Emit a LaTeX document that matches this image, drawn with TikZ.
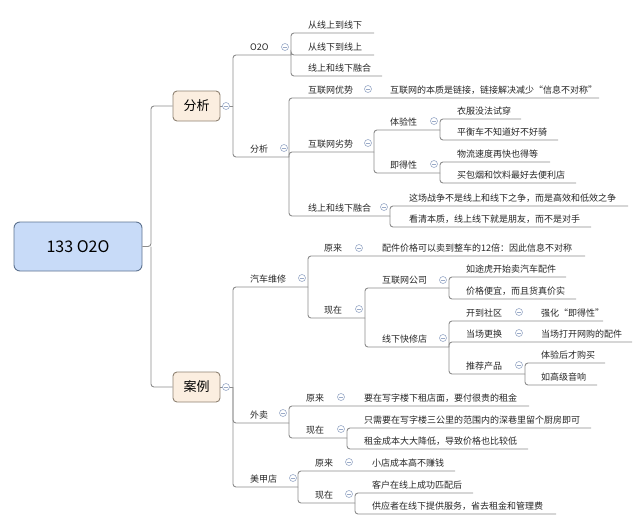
\documentclass[tikz,border=0pt]{standalone}
\usepackage{fontspec}
\setmainfont{Noto Sans CJK SC}
\begin{document}
\begin{tikzpicture}[x=1pt,y=-1pt]
\definecolor{ln}{HTML}{8C8C8C}
\definecolor{cc}{HTML}{9AAAC8}
\definecolor{rootfill}{HTML}{C8DBF8}
\definecolor{rootdraw}{HTML}{5E7390}
\definecolor{boxfill}{HTML}{FBEEE0}
\definecolor{boxdraw}{HTML}{8E8272}
\tikzset{
 conn/.style={draw=ln,line width=0.9pt,rounded corners=3pt},
 txt/.style={inner sep=0pt,anchor=base west,font=\fontsize{9}{11}\selectfont,text=black!85},
 circ/.style={circle,draw=cc,fill=white,minimum size=7pt,inner sep=0pt,line width=0.6pt},
 topbox/.style={draw=boxdraw,fill=boxfill,rounded corners=4pt,minimum width=47pt,minimum height=30pt,font=\fontsize{13}{15}\selectfont,line width=0.9pt},
}
\newcommand{\ch}[6]{\draw[conn] (#1,#2) |- (#4,#3); \node[txt] at (#5,#3-4.5) {#6};}
\newcommand{\cx}[3]{\node[txt] at (#1,#2-4.5) {#3};}
\newcommand{\cc}[2]{\node[circ] at (#1,#2) {}; \draw[cc,line width=0.6pt] (#1-2,#2) -- (#1+2,#2);}
\useasboundingbox (0,0) rectangle (640,528);
% root
\node[draw=rootdraw,fill=rootfill,rounded corners=6pt,minimum width=128pt,minimum height=49pt,font=\fontsize{16}{18}\selectfont,line width=0.9pt] (root) at (78,246.5) {133 O2O};
\node[topbox] (fx) at (196.5,106) {分析};
\node[topbox] (al) at (196.5,387) {案例};
\draw[conn] (root.east) -- (151,246.5) |- (fx.west);
\draw[conn] (151,246.5) |- (al.west);
\draw[conn] (fx.east) -- (233,106);
\draw[conn] (al.east) -- (233,387);
\cc{226}{106}\cc{226}{387}
% 分析 group
\ch{233}{106}{55}{291}{250}{O2O}
\ch{233}{106}{157}{289}{250}{分析}
\ch{291}{55}{33}{374}{308}{从线上到线下}
\ch{291}{55}{55}{374}{308}{从线下到线上}
\ch{291}{55}{76}{382}{308}{线上和线下融合}
\ch{289}{157}{98}{599}{308}{互联网优势}\cx{390}{98}{互联网的本质是链接，链接解决减少“信息不对称”}
\ch{289}{157}{152}{374}{308}{互联网劣势}
\ch{289}{157}{216}{390}{308}{线上和线下融合}
\ch{374}{152}{130}{440}{390}{体验性}
\ch{374}{152}{173}{440}{390}{即得性}
\ch{440}{130}{119}{521}{457}{衣服没法试穿}
\ch{440}{130}{140}{558}{457}{平衡车不知道好不好骑}
\ch{440}{173}{162}{550}{457}{物流速度再快也得等}
\ch{440}{173}{183}{576}{457}{买包烟和饮料最好去便利店}
\ch{390}{216}{206}{628}{409}{这场战争不是线上和线下之争，而是高效和低效之争}
\ch{390}{216}{227}{591}{409}{看清本质，线上线下就是朋友，而不是对手}
\cc{285}{47}\cc{284}{148}\cc{368}{89}\cc{368}{143}\cc{384}{207}\cc{434}{121}\cc{434}{164}
% 案例 group
\ch{233}{387}{287}{308}{250}{汽车维修}
\ch{233}{387}{423}{289}{250}{外卖}
\ch{233}{387}{487}{298}{250}{美甲店}
\ch{308}{287}{256}{585}{324}{原来}\cx{382}{256}{配件价格可以卖到整车的12倍：因此信息不对称}
\ch{308}{287}{318}{365}{324}{现在}
\ch{365}{318}{288}{449}{382}{互联网公司}
\ch{365}{318}{347}{449}{382}{线下快修店}
\ch{449}{288}{277}{566}{466}{如途虎开始卖汽车配件}
\ch{449}{288}{299}{576}{466}{价格便宜，而且货真价实}
\ch{449}{347}{321}{603}{466}{开到社区}\cx{541}{321}{强化“即得性”}
\ch{449}{347}{342}{632}{466}{当场更换}\cx{541}{342}{当场打开网购的配件}
\ch{449}{347}{374}{525}{466}{推荐产品}
\ch{525}{374}{363}{605}{541}{体验后才购买}
\ch{525}{374}{385}{597}{541}{如高级音响}
\ch{289}{423}{406}{529}{306}{原来}\cx{364}{406}{要在写字楼下租店面，要付很贵的租金}
\ch{289}{423}{438}{347}{306}{现在}
\ch{347}{438}{428}{591}{364}{只需要在写字楼三公里的范围内的深巷里留个厨房即可}
\ch{347}{438}{449}{528}{364}{租金成本大大降低，导致价格也比较低}
\ch{298}{487}{471}{455}{315}{原来}\cx{372}{471}{小店成本高不赚钱}
\ch{298}{487}{503}{355}{315}{现在}
\ch{355}{503}{493}{473}{372}{客户在线上成功匹配后}
\ch{355}{503}{514}{556}{372}{供应者在线下提供服务，省去租金和管理费}
\cc{302}{278}\cc{283}{413}\cc{293}{478}\cc{359}{248}\cc{359}{309}\cc{443}{280}\cc{443}{338}
\cc{519}{312}\cc{519}{333}\cc{519}{365}\cc{341}{397}\cc{341}{429}\cc{349}{462}\cc{349}{494}
\end{tikzpicture}
\end{document}
